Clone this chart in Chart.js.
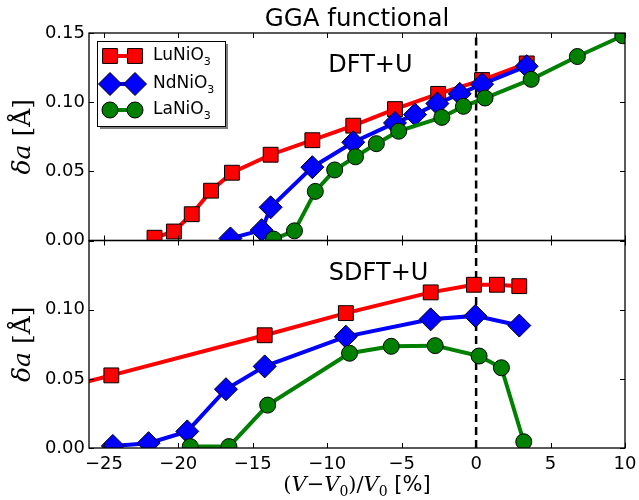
<!DOCTYPE html>
<html>
<head>
<meta charset="utf-8">
<script src="https://cdn.jsdelivr.net/npm/chart.js@4/dist/chart.umd.min.js"></script>
<style>
  html, body { margin: 0; padding: 0; background: #fff; }
</style>
</head>
<body>
<canvas id="chart" width="639" height="500"></canvas>
<script>
const xTicks = [-25, -20, -15, -10, -5, 0, 5, 10];
const yTicks = [0, 0.05, 0.1, 0.15];

// DFT+U (top panel)
const dftLuX = [-21.6, -20.3, -19.1, -17.8, -16.4, -13.8, -11.0, -8.25, -5.45, -2.55, 0.4, 3.4];
const dftLuY = [0.002, 0.0065, 0.019, 0.036, 0.049, 0.062, 0.0725, 0.083, 0.095, 0.106, 0.116, 0.128];
const dftNdX = [-16.5, -14.4, -13.8, -11.0, -8.25, -5.45, -4.1, -2.6, -1.1, 0.4, 3.4];
const dftNdY = [0.0015, 0.0075, 0.024, 0.053, 0.071, 0.085, 0.091, 0.099, 0.106, 0.113, 0.126];
const dftLaX = [-13.6, -12.2, -10.8, -9.5, -8.1, -6.7, -5.2, -2.3, -0.85, 0.6, 3.7, 6.8, 9.85];
const dftLaY = [0.001, 0.007, 0.0355, 0.051, 0.0605, 0.07, 0.079, 0.089, 0.097, 0.103, 0.1165, 0.133, 0.148];

// SDFT+U (bottom panel)
const sdftLuX = [-28.5, -24.5, -14.2, -8.75, -3.05, -0.15, 1.4, 2.9];
const sdftLuY = [0.0415, 0.0525, 0.0815, 0.0975, 0.1125, 0.118, 0.118, 0.117];
const sdftNdX = [-24.4, -22.0, -19.4, -16.8, -14.2, -8.75, -3.05, -0.05, 2.9];
const sdftNdY = [0.0015, 0.0035, 0.012, 0.0425, 0.059, 0.0805, 0.093, 0.0955, 0.0885];
const sdftLaX = [-19.2, -16.6, -14.0, -8.5, -5.7, -2.75, 0.2, 1.7, 3.2];
const sdftLaY = [0.001, 0.001, 0.031, 0.0685, 0.0735, 0.074, 0.0665, 0.058, 0.0045];

const zeroLineX = [0, 0];
const zeroLineY = [0, 0.15];

const compounds = ['LuNiO', 'NdNiO', 'LaNiO'];
const colors = ['#ff0000', '#0000ff', '#008000'];
const markers = ['rect', 'rectRot', 'circle'];
const markerSizes = [10.5, 11.5, 8];

const pts = (xs, ys) => xs.map((x, i) => ({ x, y: ys[i] }));

function series(i, xs, ys, yAxisID) {
  return {
    label: compounds[i] + '3',
    data: pts(xs, ys),
    yAxisID,
    borderColor: colors[i],
    backgroundColor: colors[i],
    borderWidth: 4,
    pointStyle: markers[i],
    pointRadius: markerSizes[i],
    pointHoverRadius: markerSizes[i],
    pointBackgroundColor: colors[i],
    pointBorderColor: '#000',
    pointBorderWidth: 1,
    clip: 0,
    order: 3 - i,
  };
}

function zeroLine(yAxisID) {
  return {
    data: pts(zeroLineX, zeroLineY),
    yAxisID,
    borderColor: '#000',
    borderWidth: 2.5,
    borderDash: [8, 5],
    pointRadius: 0,
    order: 10,
  };
}

function yScale(hideTop) {
  return {
    type: 'linear',
    position: 'left',
    stack: 'panels',
    stackWeight: 1,
    min: 0,
    max: 0.15,
    afterBuildTicks: (s) => { s.ticks = yTicks.map((value) => ({ value })); },
    afterFit: (s) => { s.width = 89; s.paddingTop = 0; s.paddingBottom = 0; },
    grid: { display: false, drawTicks: false },
    border: { display: false },
    ticks: {
      color: '#000',
      padding: 4,
      font: { family: 'DejaVu Sans', size: 18 },
      callback: (v) => (hideTop && v > 0.14 ? '' : v.toFixed(2)),
    },
  };
}

const sub = (ctx, parts, x, y, align) => {
  // parts: [text, font, dy]
  let total = 0;
  parts.forEach((p) => { ctx.font = p[1]; total += ctx.measureText(p[0]).width; });
  let cx = align === 'center' ? x - total / 2 : x;
  parts.forEach((p) => {
    ctx.font = p[1];
    ctx.fillText(p[0], cx, y + (p[2] || 0));
    cx += ctx.measureText(p[0]).width;
  });
};

const decorations = {
  id: 'decorations',
  afterDatasetsDraw(chart) {
    const ctx = chart.ctx;
    const x = chart.scales.x;
    ['yTop', 'yBot'].forEach((id) => {
      const y = chart.scales[id];
      ctx.save();
      ctx.strokeStyle = '#000';
      ctx.lineWidth = 1;
      ctx.beginPath();
      xTicks.forEach((v) => {
        const px = Math.round(x.getPixelForValue(v)) + 0.5;
        ctx.moveTo(px, y.top); ctx.lineTo(px, y.top + 5);
        ctx.moveTo(px, y.bottom); ctx.lineTo(px, y.bottom - 5);
      });
      yTicks.forEach((v) => {
        const py = Math.round(y.getPixelForValue(v)) + 0.5;
        ctx.moveTo(x.left, py); ctx.lineTo(x.left + 5, py);
        ctx.moveTo(x.right, py); ctx.lineTo(x.right - 5, py);
      });
      ctx.stroke();
      ctx.lineWidth = 1.3;
      ctx.strokeRect(x.left, y.top, x.right - x.left, y.bottom - y.top);
      ctx.restore();
    });
  },
  afterDraw(chart) {
    const ctx = chart.ctx;
    const x = chart.scales.x;
    const yTop = chart.scales.yTop;
    const yBot = chart.scales.yBot;
    ctx.save();
    ctx.fillStyle = '#000';
    ctx.textBaseline = 'alphabetic';
    ctx.textAlign = 'left';

    // title
    sub(ctx, [['GGA functional', '24.5px "DejaVu Sans"']], (x.left + x.right) / 2, 26, 'center');

    // panel labels
    ctx.textBaseline = 'middle';
    sub(ctx, [['DFT+U', '24px "DejaVu Sans"']], x.getPixelForValue(-7.1), yTop.getPixelForValue(0.1265), 'center');
    sub(ctx, [['SDFT+U', '24px "DejaVu Sans"']], x.getPixelForValue(-6.55), yBot.getPixelForValue(0.126), 'center');

    // y axis titles
    [yTop, yBot].forEach((y) => {
      ctx.save();
      ctx.translate(30, (y.top + y.bottom) / 2);
      ctx.rotate(-Math.PI / 2);
      ctx.textBaseline = 'alphabetic';
      sub(ctx, [
        ['\u03b4a', 'italic 25px "DejaVu Serif"'],
        [' [\u00c5]', '25px "DejaVu Serif"'],
      ], 0, 0, 'center');
      ctx.restore();
    });

    // x axis title
    ctx.textBaseline = 'alphabetic';
    const rm = '21px "DejaVu Serif"';
    const it = 'italic 21px "DejaVu Serif"';
    const sm = '14px "DejaVu Serif"';
    sub(ctx, [
      ['(', rm], ['V', it], ['\u2212', rm], ['V', it], ['0', sm, 5], [')/', rm],
      ['V', it], ['0', sm, 5], [' [%]', '21px "DejaVu Sans"'],
    ], (x.left + x.right) / 2, 491, 'center');

    // legend
    const bx = 97, by = 41, bw = 128, bh = 85;
    ctx.fillStyle = 'rgba(0,0,0,0.5)';
    ctx.fillRect(bx + 3, by + 3, bw, bh);
    ctx.fillStyle = '#fff';
    ctx.fillRect(bx, by, bw, bh);
    ctx.strokeStyle = '#000';
    ctx.lineWidth = 1;
    ctx.strokeRect(bx + 0.5, by + 0.5, bw, bh);
    const rows = [56, 84, 110];
    compounds.forEach((name, i) => {
      const ry = rows[i];
      ctx.strokeStyle = colors[i];
      ctx.lineWidth = 4;
      ctx.beginPath();
      ctx.moveTo(110, ry); ctx.lineTo(135, ry);
      ctx.stroke();
      ctx.fillStyle = colors[i];
      ctx.strokeStyle = '#000';
      ctx.lineWidth = 1;
      [110, 135].forEach((mx) => {
        Chart.helpers.drawPoint(ctx, { pointStyle: markers[i], radius: markerSizes[i], rotation: 0, borderWidth: 1 }, mx, ry);
      });
      ctx.fillStyle = '#000';
      ctx.textBaseline = 'middle';
      sub(ctx, [[name, '17px "DejaVu Sans"'], ['3', '11px "DejaVu Sans"', 6]], 153, ry, 'left');
    });
    ctx.restore();
  },
};

new Chart(document.getElementById('chart'), {
  type: 'line',
  data: {
    datasets: [
      series(0, dftLuX, dftLuY, 'yTop'),
      series(1, dftNdX, dftNdY, 'yTop'),
      series(2, dftLaX, dftLaY, 'yTop'),
      zeroLine('yTop'),
      series(0, sdftLuX, sdftLuY, 'yBot'),
      series(1, sdftNdX, sdftNdY, 'yBot'),
      series(2, sdftLaX, sdftLaY, 'yBot'),
      zeroLine('yBot'),
    ],
  },
  options: {
    responsive: false,
    animation: false,
    devicePixelRatio: 1,
    layout: { padding: { top: 33, right: 14, left: 0, bottom: 0 } },
    plugins: { legend: { display: false }, tooltip: { enabled: false } },
    scales: {
      x: {
        type: 'linear',
        min: -26,
        max: 10,
        afterBuildTicks: (s) => { s.ticks = xTicks.map((value) => ({ value })); },
        afterFit: (s) => { s.height = 52; s.paddingLeft = 0; s.paddingRight = 0; },
        grid: { display: false, drawTicks: false },
        border: { display: false },
        ticks: {
          color: '#000',
          padding: 6,
          maxRotation: 0,
          autoSkip: false,
          font: { family: 'DejaVu Sans', size: 18 },
          callback: (v) => String(v).replace('-', '\u2212'),
        },
      },
      yBot: yScale(true),
      yTop: yScale(false),
    },
  },
  plugins: [decorations],
});
</script>
</body>
</html>
